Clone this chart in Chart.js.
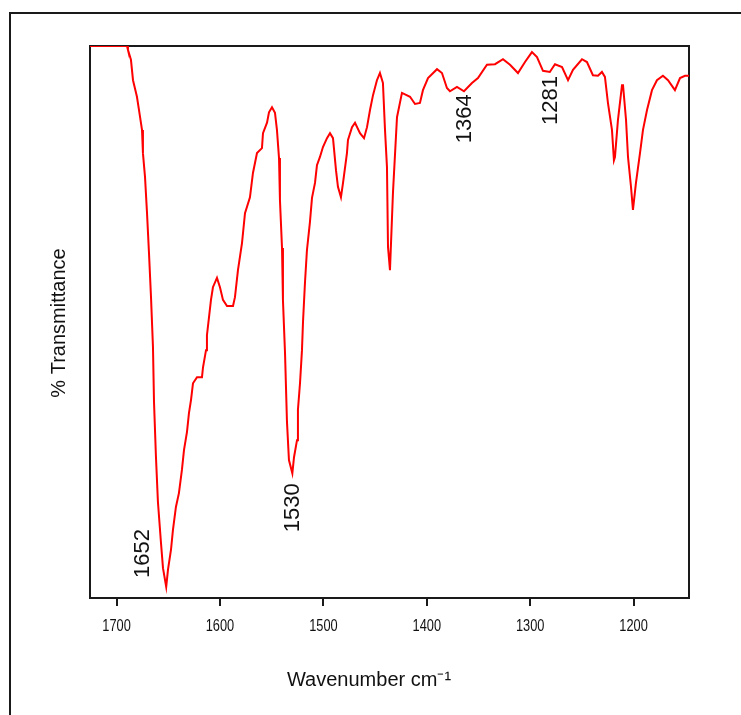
<!DOCTYPE html>
<html>
<head>
<meta charset="utf-8">
<title>IR Spectrum</title>
<script src="https://cdn.jsdelivr.net/npm/chart.js@4.4.0/dist/chart.umd.min.js"></script>
<style>
    html, body { margin: 0; padding: 0; background: #fff; }
    #wrap { position: relative; width: 741px; height: 715px; }
</style>
</head>
<body>
<div id="wrap"><canvas id="irChart" width="741" height="715"></canvas></div>
<script>
// wavenumber (cm-1), high to low
const wavenumbers = [
    1725.7, 1689.9, 1689.0, 1686.1, 1684.1, 1680.3, 1678.3, 1675.4, 1674.5, 1672.5,
    1670.6, 1668.7, 1666.7, 1664.8, 1663.8, 1661.9, 1660.0, 1657.1, 1655.1, 1652,
    1650.3, 1647.4, 1645.5, 1642.6, 1639.7, 1636.8, 1634.8, 1631.9, 1630.0, 1628.0,
    1626.1, 1622.2, 1617.4, 1616.4, 1613.5, 1612.6, 1610.6, 1608.7, 1606.8, 1602.9,
    1600.0, 1597.1, 1593.2, 1587.4, 1585.5, 1582.6, 1578.7, 1575.8, 1571.0, 1568.1,
    1564.2, 1559.4, 1558.4, 1554.5, 1552.6, 1549.7, 1546.8, 1544.9, 1542.9, 1542.0,
    1540.0, 1539.1, 1537.1, 1535.2, 1533.3, 1530, 1528.4, 1525.5, 1524.6, 1522.6,
    1520.7, 1519.7, 1517.8, 1515.9, 1513.0, 1511.0, 1508.1, 1506.2, 1503.3, 1500.4,
    1496.5, 1493.6, 1490.7, 1487.8, 1485.9, 1483.0, 1481.0, 1477.2, 1476.2, 1472.3,
    1469.4, 1464.6, 1460.7, 1457.8, 1454.9, 1452.0, 1448.2, 1445.3, 1442.4, 1440.4,
    1438.5, 1437.5, 1435.6, 1432.7, 1428.8, 1424.0, 1416.2, 1411.4, 1406.6, 1403.7,
    1398.8, 1390.1, 1385.3, 1380.5, 1377.6, 1370.8, 1364, 1356.3, 1350.5, 1341.8,
    1334.0, 1326.3, 1319.5, 1311.8, 1305.0, 1298.3, 1293.4, 1287.6, 1281, 1276.0,
    1269.2, 1263.4, 1258.6, 1249.9, 1245.1, 1239.3, 1234.4, 1230.6, 1227.7, 1224.8,
    1220.9, 1219.0, 1218.0, 1215.1, 1211.2, 1210.2, 1207.3, 1205.4, 1202.5, 1200.6,
    1197.7, 1193.8, 1190.9, 1187.0, 1182.2, 1177.4, 1171.6, 1166.7, 1160.0, 1155.1,
    1150.3, 1146.4
];

// % transmittance, scaled so the top of the frame is 100
const transmittance = [
    100, 100, 99.3, 97.5, 93.8, 90.8, 88.4, 84.8, 80.6, 76.3,
    69.9, 62.7, 54.5, 45.5, 35.5, 25.5, 17.4, 10.1, 5.4, 2.0,
    5.1, 8.7, 12.3, 16.5, 19.0, 23.2, 26.8, 30.1, 33.5, 35.9,
    38.9, 40.0, 40.0, 41.8, 44.9, 47.6, 50.9, 54.0, 56.3, 58.0,
    56.3, 54.0, 52.9, 52.9, 54.5, 59.4, 64.3, 69.7, 72.6, 77.0,
    80.6, 81.5, 84.2, 86.1, 88.0, 88.9, 87.9, 84.8, 79.7, 72.1,
    63.4, 54.0, 44.4, 31.9, 25.0, 22.6, 25.5, 28.6, 34.1, 38.9,
    44.9, 50.0, 57.1, 63.0, 68.1, 72.5, 75.2, 78.4, 79.9, 81.7,
    83.3, 84.2, 83.3, 77.5, 74.5, 72.6, 75.2, 80.6, 83.0, 85.3,
    86.1, 84.2, 83.3, 85.3, 88.4, 91.1, 93.8, 95.1, 93.3, 84.8,
    78.1, 63.6, 59.4, 73.4, 87.1, 91.5, 90.8, 89.5, 89.7, 92.0,
    94.2, 95.8, 95.1, 92.4, 91.8, 92.6, 91.8, 93.3, 94.2, 96.6,
    96.7, 97.6, 96.6, 95.1, 97.1, 98.9, 98.0, 95.5, 95.3, 96.7,
    96.2, 93.8, 95.7, 97.6, 97.1, 94.7, 94.6, 95.3, 94.4, 89.7,
    84.8, 79.3, 79.9, 86.6, 92.9, 92.9, 86.6, 79.9, 74.5, 70.3,
    75.2, 80.6, 84.8, 88.4, 92.0, 93.8, 94.6, 93.8, 92.0, 94.2,
    94.6, 94.6
];

const tickValues = [1700, 1600, 1500, 1400, 1300, 1200];
const peakLabels = [1652, 1530, 1364, 1281];

// where each peak label starts, relative to its peak (px)
const peakLabelOffsets = [[-23, -9], [1, 59], [1, 52], [1.5, 53]];

const textFont = "'Liberation Sans', Arial, sans-serif";

function drawRotated(ctx, text, x, y, align) {
    ctx.save();
    ctx.translate(x, y);
    ctx.rotate(-Math.PI / 2);
    ctx.textAlign = align;
    ctx.textBaseline = "middle";
    ctx.fillText(text, 0, 0);
    ctx.restore();
}

const framePlugin = {
    id: "frame",
    beforeDatasetsDraw(chart) {
        const { ctx, chartArea: a } = chart;
        ctx.save();
        ctx.strokeStyle = "#1a1a1a";
        ctx.lineWidth = 2;
        ctx.strokeRect(a.left, a.top, a.right - a.left, a.bottom - a.top);
        // page border
        ctx.beginPath();
        ctx.moveTo(10, 715);
        ctx.lineTo(10, 13);
        ctx.lineTo(741, 13);
        ctx.stroke();
        ctx.restore();
    },
    afterDraw(chart) {
        const { ctx, scales } = chart;
        ctx.save();
        ctx.fillStyle = "#111";

        // tick labels, squeezed like the instrument's narrow font
        ctx.font = "16px " + textFont;
        ctx.textAlign = "center";
        ctx.textBaseline = "middle";
        tickValues.forEach(function (v) {
            ctx.save();
            ctx.translate(scales.x.getPixelForValue(v), 627);
            ctx.scale(0.8, 1);
            ctx.fillText(String(v), 0, 0);
            ctx.restore();
        });

        // axis titles
        ctx.font = "20px " + textFont;
        ctx.fillText("Wavenumber cm\u207B\u00B9", 369, 680);
        drawRotated(ctx, "% Transmittance", 59, 323, "center");

        // peak positions
        ctx.font = "22px " + textFont;
        peakLabels.forEach(function (peak, i) {
            const idx = wavenumbers.indexOf(peak);
            const x = scales.x.getPixelForValue(peak) + peakLabelOffsets[i][0];
            const y = scales.y.getPixelForValue(transmittance[idx]) + peakLabelOffsets[i][1];
            drawRotated(ctx, String(peak), x, y, "left");
        });
        ctx.restore();
    },
};

function initializeChart() {
    const ctx = document.getElementById("irChart").getContext("2d");
    new Chart(ctx, {
        type: "line",
        data: {
            datasets: [
                {
                    data: wavenumbers.map(function (w, i) {
                        return { x: w, y: transmittance[i] };
                    }),
                    borderColor: "#ff0000",
                    borderWidth: 2,
                    pointRadius: 0,
                    tension: 0,
                    fill: false,
                },
            ],
        },
        options: {
            responsive: false,
            animation: false,
            devicePixelRatio: 1,
            layout: {
                padding: { top: 46, right: 52, left: 0, bottom: 0 },
            },
            scales: {
                x: {
                    type: "linear",
                    reverse: true,
                    min: 1146.4,
                    max: 1725.7,
                    afterBuildTicks: function (scale) {
                        scale.ticks = tickValues.map(function (v) {
                            return { value: v };
                        });
                    },
                    afterFit: function (scale) {
                        scale.height = 117;
                    },
                    border: { display: false },
                    grid: {
                        display: true,
                        drawOnChartArea: false,
                        drawTicks: true,
                        tickLength: 8,
                        color: "#1a1a1a",
                        lineWidth: 2,
                    },
                    ticks: { display: false },
                },
                y: {
                    min: 0,
                    max: 100,
                    afterFit: function (scale) {
                        scale.width = 90;
                    },
                    border: { display: false },
                    grid: { display: false },
                    ticks: { display: false },
                },
            },
            plugins: {
                legend: { display: false },
                tooltip: { enabled: false },
            },
        },
        plugins: [framePlugin],
    });
}

initializeChart();
</script>
</body>
</html>
